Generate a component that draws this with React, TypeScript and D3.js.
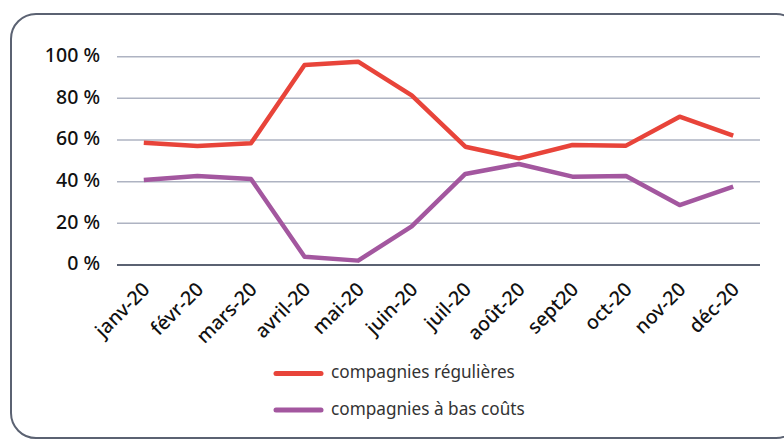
import * as d3 from "d3"

const months = ["janv-20", "févr-20", "mars-20", "avril-20", "mai-20", "juin-20", "juil-20", "août-20", "sept20", "oct-20", "nov-20", "déc-20"]
const regulieres = [58.7, 57.1, 58.4, 96, 97.6, 81.4, 56.8, 51.2, 57.6, 57.3, 71.2, 62.1]
const basCouts = [40.8, 42.7, 41.3, 4, 2.1, 18.5, 43.7, 48.5, 42.4, 42.7, 28.8, 37.6]
const yTicks = [0, 20, 40, 60, 80, 100]
const seriesNames = ["compagnies régulières", "compagnies à bas coûts"]
const seriesColors = ["#e8443a", "#a3579f"]

const W = 784
const H = 439
const margin = { top: 56.7, right: 24, bottom: 174, left: 117 }

export default function App() {
  const x = d3
    .scaleBand()
    .domain(months)
    .range([margin.left, 760])
  const y = d3
    .scaleLinear()
    .domain([0, 100])
    .range([H - margin.bottom, margin.top])

  const line = d3
    .line<number>()
    .x((_, i) => (x(months[i]) ?? 0) + x.bandwidth() / 2)
    .y((d) => y(d))

  const series = [regulieres, basCouts]
  const font = "'Noto Sans', Lato, sans-serif"

  return (
    <svg
      width={W}
      height={H}
      style={{ position: "absolute", left: 0, top: 0, fontFamily: font }}
    >
      <rect x={0} y={0} width={W} height={H} fill="#fff" />
      <rect x={11} y={14} width={790} height={424} rx={25} ry={25} fill="#fff" stroke="#5b6272" strokeWidth={2} />

      {yTicks.map((t) => (
        <g key={t}>
          <line
            x1={x.range()[0]}
            x2={x.range()[1]}
            y1={y(t)}
            y2={y(t)}
            stroke={t === 0 ? "#5b6272" : "#aeb3c2"}
            strokeWidth={t === 0 ? 2 : 1.5}
          />
          <text x={100} y={y(t)} textAnchor="end" dominantBaseline="middle" fontSize={19.5} fontWeight={500} fill="#111">
            {t} %
          </text>
        </g>
      ))}

      {months.map((m) => {
        const cx = (x(m) ?? 0) + x.bandwidth() / 2 + 3.5
        return (
          <text
            key={m}
            x={cx}
            y={287}
            textAnchor="end"
            dominantBaseline="middle"
            fontSize={19.5}
            fontWeight={500}
            fill="#111"
            transform={`rotate(-45, ${cx}, 287)`}
          >
            {m}
          </text>
        )
      })}

      {series.map((s, i) => (
        <path
          key={i}
          d={line(s) ?? ""}
          fill="none"
          stroke={seriesColors[i]}
          strokeWidth={4.5}
          strokeLinejoin="round"
        />
      ))}

      {seriesNames.map((n, i) => (
        <g key={n}>
          <line
            x1={276}
            x2={321}
            y1={373.5 + i * 36.5}
            y2={373.5 + i * 36.5}
            stroke={seriesColors[i]}
            strokeWidth={5}
            strokeLinecap="round"
          />
          <text x={331} y={373.5 + i * 36.5} dominantBaseline="middle" fontSize={17.2} fill="#333">
            {n}
          </text>
        </g>
      ))}
    </svg>
  )
}
